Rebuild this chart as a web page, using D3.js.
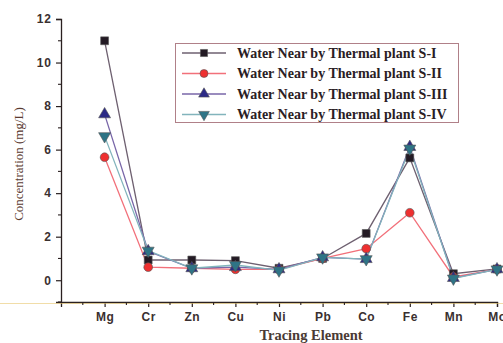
<!DOCTYPE html>
<html>
<head>
<meta charset="utf-8">
<script src="https://cdn.jsdelivr.net/npm/d3@7"></script>
<style>
  body { margin: 0; background: #fff; }
</style>
</head>
<body>
<div id="chart"></div>
<script>
// ======= data
var elements = ["Mg", "Cr", "Zn", "Cu", "Ni", "Pb", "Co", "Fe", "Mn", "Mo"];
var seriesNames = [
  "Water Near by Thermal plant S-I",
  "Water Near by Thermal plant S-II",
  "Water Near by Thermal plant S-III",
  "Water Near by Thermal plant S-IV"
];
var s1 = [11.0, 0.93, 0.93, 0.9, 0.55, 1.0, 2.15, 5.62, 0.3, 0.52];
var s2 = [5.65, 0.6, 0.55, 0.5, 0.5, 1.0, 1.45, 3.1, 0.15, 0.5];
var s3 = [7.62, 1.33, 0.55, 0.6, 0.5, 1.05, 0.97, 6.12, 0.1, 0.5];
var s4 = [6.62, 1.36, 0.55, 0.7, 0.45, 1.05, 0.97, 6.05, 0.08, 0.5];
var yTicks = [0, 2, 4, 6, 8, 10, 12];

var allSeries = [s1, s2, s3, s4];
var markColor = ["#231a24", "#ee3030", "#2c2a86", "#2e7486"];
var lineColor = ["#6e6070", "#f2707a", "#7866a8", "#82b4bc"];
var shapes = [d3.symbolSquare, d3.symbolCircle, d3.symbolTriangle, d3.symbolTriangle];

var W = 503, H = 343;
var svg = d3.select("#chart").append("svg")
  .attr("width", W)
  .attr("height", H);

// ======= scales (x runs from one slot before Mg to Mo)
var x = d3.scaleLinear().domain([-1, 9]).range([61, 497]);
var y = d3.scaleLinear().domain([-1, 12]).range([302, 19]);

// ======= y axis
var yAxis = d3.axisLeft(y)
  .tickValues(yTicks)
  .tickSize(5)
  .tickPadding(4);
var gy = svg.append("g").attr("transform", "translate(61,0)").call(yAxis);
gy.select(".domain").attr("stroke", "#2a2020").attr("stroke-width", 1.3);
gy.selectAll(".tick line").attr("stroke", "#2a2020").attr("stroke-width", 1.2);
gy.selectAll("text")
  .attr("font-family", "Liberation Sans, Arial, sans-serif")
  .attr("font-weight", "bold")
  .attr("font-size", "12px")
  .attr("letter-spacing", "1px")
  .attr("fill", "#3a3030");

// minor y ticks
svg.append("g").selectAll("line")
  .data(d3.range(-1, 12, 2))
  .enter()
  .append("line")
  .attr("x1", 58).attr("x2", 61)
  .attr("y1", function(d) { return y(d); })
  .attr("y2", function(d) { return y(d); })
  .attr("stroke", "#2a2020")
  .attr("stroke-width", 1.1);

// ======= x axis
var xAxis = d3.axisBottom(x)
  .tickValues(d3.range(0, 10))
  .tickFormat(function(d) { return elements[d]; })
  .tickSize(5)
  .tickPadding(5);
var gx = svg.append("g").attr("transform", "translate(0,302)").call(xAxis);
gx.select(".domain").attr("stroke", "#2a2020").attr("stroke-width", 1.3);
gx.selectAll(".tick line").attr("stroke", "#2a2020").attr("stroke-width", 1.2);
gx.selectAll("text")
  .attr("font-family", "Liberation Sans, Arial, sans-serif")
  .attr("font-weight", "bold")
  .attr("font-size", "12px")
  .attr("letter-spacing", "0.5px")
  .attr("fill", "#3a3030");

// yellowish tint under the x axis line
svg.append("line")
  .attr("x1", 0).attr("x2", W)
  .attr("y1", 303.5).attr("y2", 303.5)
  .attr("stroke", "#e8c870")
  .attr("stroke-width", 1)
  .attr("opacity", 0.6);

// minor x ticks
svg.append("g").selectAll("line")
  .data(d3.range(-0.5, 9, 1))
  .enter()
  .append("line")
  .attr("y1", 302).attr("y2", 305)
  .attr("x1", function(d) { return x(d); })
  .attr("x2", function(d) { return x(d); })
  .attr("stroke", "#2a2020")
  .attr("stroke-width", 1.1);

// ======= axis titles
svg.append("text")
  .text("Concentration (mg/L)")
  .attr("transform", "translate(23,164) rotate(-90)")
  .attr("text-anchor", "middle")
  .attr("font-family", "Liberation Serif, Times New Roman, serif")
  .attr("font-size", "13px")
  .attr("fill", "#5a3a30");

svg.append("text")
  .text("Tracing Element")
  .attr("x", 311)
  .attr("y", 340)
  .attr("text-anchor", "middle")
  .attr("font-family", "Liberation Serif, Times New Roman, serif")
  .attr("font-weight", "bold")
  .attr("font-size", "14.5px")
  .attr("fill", "#4a3a34");

// ======= lines and markers
var line = d3.line()
  .x(function(d, j) { return x(j); })
  .y(function(d) { return y(d); });

allSeries.forEach(function(data, k) {
  svg.append("path")
    .datum(data)
    .attr("d", line)
    .attr("fill", "none")
    .attr("stroke", lineColor[k])
    .attr("stroke-width", 1.3);
});

allSeries.forEach(function(data, k) {
  svg.append("g").selectAll("path")
    .data(data)
    .enter()
    .append("path")
    .attr("d", d3.symbol().type(shapes[k]).size(k == 1 ? 60 : 62))
    .attr("transform", function(d, j) {
      var rot = (k == 3) ? " rotate(180)" : "";
      return "translate(" + x(j) + "," + y(d) + ")" + rot;
    })
    .attr("fill", markColor[k])
    .attr("stroke", "#555")
    .attr("stroke-width", 0.6);
});

// ======= legend
var legend = svg.append("g");
legend.append("rect")
  .attr("x", 175.5).attr("y", 43.5)
  .attr("width", 283).attr("height", 79)
  .attr("fill", "#fff")
  .attr("stroke", "#b08088")
  .attr("stroke-width", 1);

seriesNames.forEach(function(name, k) {
  var ly = 53 + k * 20.5;
  legend.append("line")
    .attr("x1", 182).attr("x2", 226)
    .attr("y1", ly).attr("y2", ly)
    .attr("stroke", lineColor[k])
    .attr("stroke-width", 1.3);
  legend.append("path")
    .attr("d", d3.symbol().type(shapes[k]).size(50))
    .attr("transform", "translate(204," + ly + ")" + (k == 3 ? " rotate(180)" : ""))
    .attr("fill", markColor[k])
    .attr("stroke", "#555")
    .attr("stroke-width", 0.6);
  legend.append("text")
    .text(name)
    .attr("x", 237)
    .attr("y", ly + 4.5)
    .attr("font-family", "Liberation Serif, Times New Roman, serif")
    .attr("font-weight", "bold")
    .attr("font-size", "14px")
    .attr("fill", "#2a2024");
});
</script>
</body>
</html>
